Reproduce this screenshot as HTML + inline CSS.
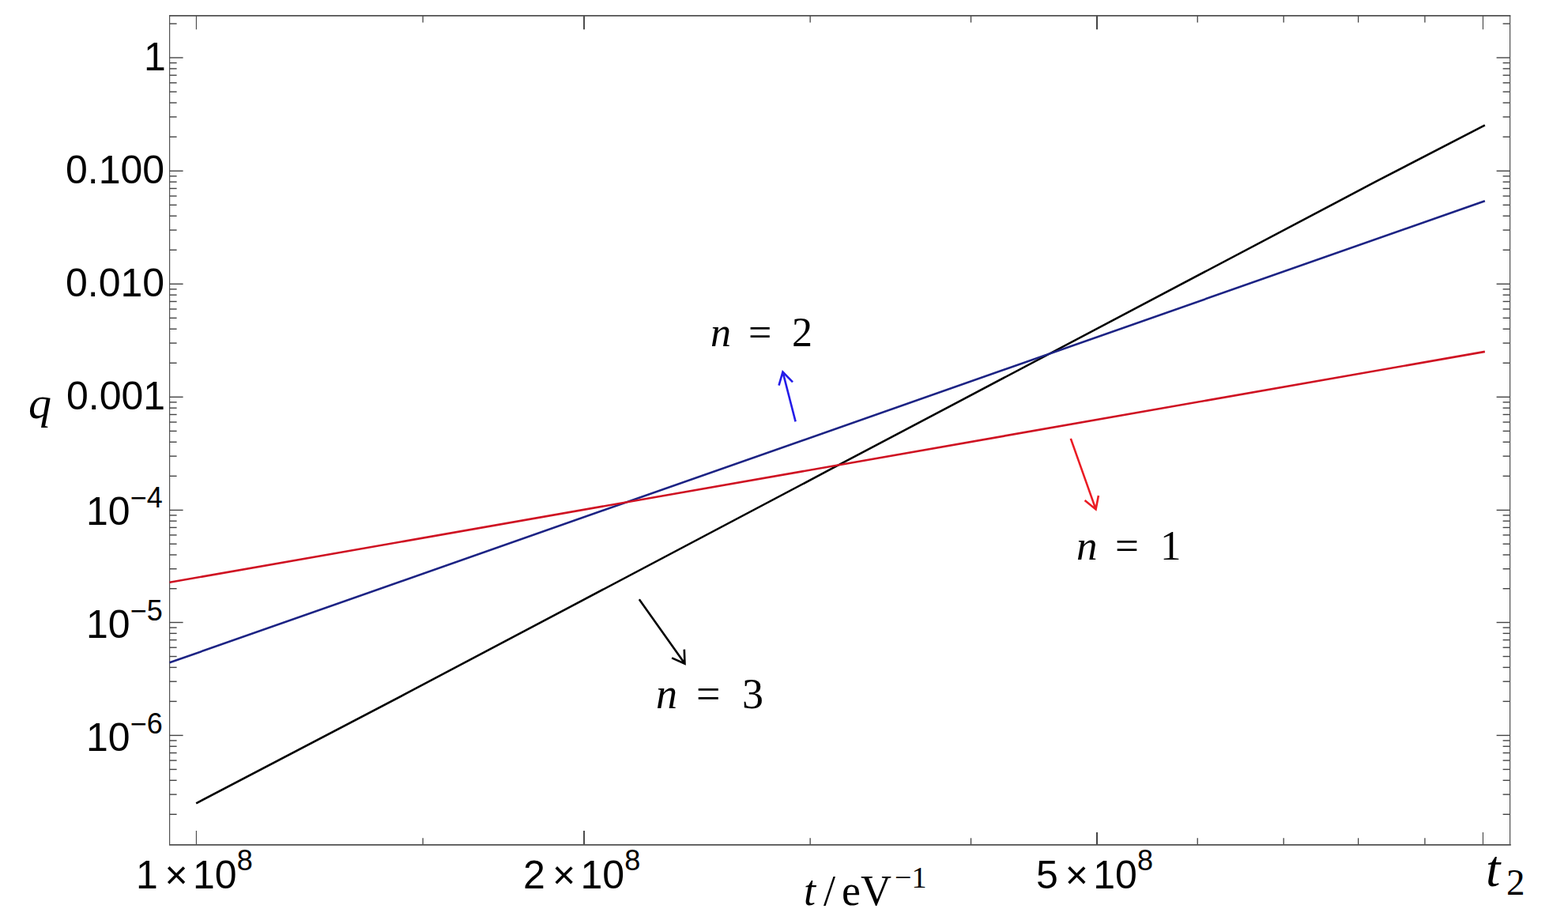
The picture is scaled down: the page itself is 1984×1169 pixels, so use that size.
<!DOCTYPE html>
<html><head><meta charset="utf-8"><title>q versus t (log-log)</title>
<style>
html,body{margin:0;padding:0;background:#fff;}
body{width:1984px;height:1169px;overflow:hidden;font-family:"Liberation Sans",sans-serif;}
svg{display:block;position:absolute;left:0;top:0;}
.lbl text{fill:#000;}
</style></head><body>
<svg width="1984" height="1169" viewBox="0 0 1984 1169">
<rect width="1984" height="1169" fill="#fff"/>
<g id="ticks" stroke="#444" fill="none"><line x1="214.60" y1="1030.28" x2="223.60" y2="1030.28" stroke-width="1.4"/><line x1="1901.60" y1="1030.28" x2="1910.60" y2="1030.28" stroke-width="1.4"/><line x1="214.60" y1="1005.12" x2="223.60" y2="1005.12" stroke-width="1.4"/><line x1="1901.60" y1="1005.12" x2="1910.60" y2="1005.12" stroke-width="1.4"/><line x1="214.60" y1="987.27" x2="223.60" y2="987.27" stroke-width="1.4"/><line x1="1901.60" y1="987.27" x2="1910.60" y2="987.27" stroke-width="1.4"/><line x1="214.60" y1="973.42" x2="223.60" y2="973.42" stroke-width="1.4"/><line x1="1901.60" y1="973.42" x2="1910.60" y2="973.42" stroke-width="1.4"/><line x1="214.60" y1="962.10" x2="223.60" y2="962.10" stroke-width="1.4"/><line x1="1901.60" y1="962.10" x2="1910.60" y2="962.10" stroke-width="1.4"/><line x1="214.60" y1="952.54" x2="223.60" y2="952.54" stroke-width="1.4"/><line x1="1901.60" y1="952.54" x2="1910.60" y2="952.54" stroke-width="1.4"/><line x1="214.60" y1="944.25" x2="223.60" y2="944.25" stroke-width="1.4"/><line x1="1901.60" y1="944.25" x2="1910.60" y2="944.25" stroke-width="1.4"/><line x1="214.60" y1="936.94" x2="223.60" y2="936.94" stroke-width="1.4"/><line x1="1901.60" y1="936.94" x2="1910.60" y2="936.94" stroke-width="1.4"/><line x1="214.60" y1="930.40" x2="231.60" y2="930.40" stroke-width="1.4"/><line x1="1893.60" y1="930.40" x2="1910.60" y2="930.40" stroke-width="1.4"/><line x1="214.60" y1="887.38" x2="223.60" y2="887.38" stroke-width="1.4"/><line x1="1901.60" y1="887.38" x2="1910.60" y2="887.38" stroke-width="1.4"/><line x1="214.60" y1="862.22" x2="223.60" y2="862.22" stroke-width="1.4"/><line x1="1901.60" y1="862.22" x2="1910.60" y2="862.22" stroke-width="1.4"/><line x1="214.60" y1="844.37" x2="223.60" y2="844.37" stroke-width="1.4"/><line x1="1901.60" y1="844.37" x2="1910.60" y2="844.37" stroke-width="1.4"/><line x1="214.60" y1="830.52" x2="223.60" y2="830.52" stroke-width="1.4"/><line x1="1901.60" y1="830.52" x2="1910.60" y2="830.52" stroke-width="1.4"/><line x1="214.60" y1="819.20" x2="223.60" y2="819.20" stroke-width="1.4"/><line x1="1901.60" y1="819.20" x2="1910.60" y2="819.20" stroke-width="1.4"/><line x1="214.60" y1="809.64" x2="223.60" y2="809.64" stroke-width="1.4"/><line x1="1901.60" y1="809.64" x2="1910.60" y2="809.64" stroke-width="1.4"/><line x1="214.60" y1="801.35" x2="223.60" y2="801.35" stroke-width="1.4"/><line x1="1901.60" y1="801.35" x2="1910.60" y2="801.35" stroke-width="1.4"/><line x1="214.60" y1="794.04" x2="223.60" y2="794.04" stroke-width="1.4"/><line x1="1901.60" y1="794.04" x2="1910.60" y2="794.04" stroke-width="1.4"/><line x1="214.60" y1="787.50" x2="231.60" y2="787.50" stroke-width="1.4"/><line x1="1893.60" y1="787.50" x2="1910.60" y2="787.50" stroke-width="1.4"/><line x1="214.60" y1="744.72" x2="223.60" y2="744.72" stroke-width="1.4"/><line x1="1901.60" y1="744.72" x2="1910.60" y2="744.72" stroke-width="1.4"/><line x1="214.60" y1="719.70" x2="223.60" y2="719.70" stroke-width="1.4"/><line x1="1901.60" y1="719.70" x2="1910.60" y2="719.70" stroke-width="1.4"/><line x1="214.60" y1="701.95" x2="223.60" y2="701.95" stroke-width="1.4"/><line x1="1901.60" y1="701.95" x2="1910.60" y2="701.95" stroke-width="1.4"/><line x1="214.60" y1="688.18" x2="223.60" y2="688.18" stroke-width="1.4"/><line x1="1901.60" y1="688.18" x2="1910.60" y2="688.18" stroke-width="1.4"/><line x1="214.60" y1="676.92" x2="223.60" y2="676.92" stroke-width="1.4"/><line x1="1901.60" y1="676.92" x2="1910.60" y2="676.92" stroke-width="1.4"/><line x1="214.60" y1="667.41" x2="223.60" y2="667.41" stroke-width="1.4"/><line x1="1901.60" y1="667.41" x2="1910.60" y2="667.41" stroke-width="1.4"/><line x1="214.60" y1="659.17" x2="223.60" y2="659.17" stroke-width="1.4"/><line x1="1901.60" y1="659.17" x2="1910.60" y2="659.17" stroke-width="1.4"/><line x1="214.60" y1="651.90" x2="223.60" y2="651.90" stroke-width="1.4"/><line x1="1901.60" y1="651.90" x2="1910.60" y2="651.90" stroke-width="1.4"/><line x1="214.60" y1="645.40" x2="231.60" y2="645.40" stroke-width="1.4"/><line x1="1893.60" y1="645.40" x2="1910.60" y2="645.40" stroke-width="1.4"/><line x1="214.60" y1="602.32" x2="223.60" y2="602.32" stroke-width="1.4"/><line x1="1901.60" y1="602.32" x2="1910.60" y2="602.32" stroke-width="1.4"/><line x1="214.60" y1="577.12" x2="223.60" y2="577.12" stroke-width="1.4"/><line x1="1901.60" y1="577.12" x2="1910.60" y2="577.12" stroke-width="1.4"/><line x1="214.60" y1="559.25" x2="223.60" y2="559.25" stroke-width="1.4"/><line x1="1901.60" y1="559.25" x2="1910.60" y2="559.25" stroke-width="1.4"/><line x1="214.60" y1="545.38" x2="223.60" y2="545.38" stroke-width="1.4"/><line x1="1901.60" y1="545.38" x2="1910.60" y2="545.38" stroke-width="1.4"/><line x1="214.60" y1="534.05" x2="223.60" y2="534.05" stroke-width="1.4"/><line x1="1901.60" y1="534.05" x2="1910.60" y2="534.05" stroke-width="1.4"/><line x1="214.60" y1="524.47" x2="223.60" y2="524.47" stroke-width="1.4"/><line x1="1901.60" y1="524.47" x2="1910.60" y2="524.47" stroke-width="1.4"/><line x1="214.60" y1="516.17" x2="223.60" y2="516.17" stroke-width="1.4"/><line x1="1901.60" y1="516.17" x2="1910.60" y2="516.17" stroke-width="1.4"/><line x1="214.60" y1="508.85" x2="223.60" y2="508.85" stroke-width="1.4"/><line x1="1901.60" y1="508.85" x2="1910.60" y2="508.85" stroke-width="1.4"/><line x1="214.60" y1="502.30" x2="231.60" y2="502.30" stroke-width="1.4"/><line x1="1893.60" y1="502.30" x2="1910.60" y2="502.30" stroke-width="1.4"/><line x1="214.60" y1="459.25" x2="223.60" y2="459.25" stroke-width="1.4"/><line x1="1901.60" y1="459.25" x2="1910.60" y2="459.25" stroke-width="1.4"/><line x1="214.60" y1="434.07" x2="223.60" y2="434.07" stroke-width="1.4"/><line x1="1901.60" y1="434.07" x2="1910.60" y2="434.07" stroke-width="1.4"/><line x1="214.60" y1="416.21" x2="223.60" y2="416.21" stroke-width="1.4"/><line x1="1901.60" y1="416.21" x2="1910.60" y2="416.21" stroke-width="1.4"/><line x1="214.60" y1="402.35" x2="223.60" y2="402.35" stroke-width="1.4"/><line x1="1901.60" y1="402.35" x2="1910.60" y2="402.35" stroke-width="1.4"/><line x1="214.60" y1="391.02" x2="223.60" y2="391.02" stroke-width="1.4"/><line x1="1901.60" y1="391.02" x2="1910.60" y2="391.02" stroke-width="1.4"/><line x1="214.60" y1="381.45" x2="223.60" y2="381.45" stroke-width="1.4"/><line x1="1901.60" y1="381.45" x2="1910.60" y2="381.45" stroke-width="1.4"/><line x1="214.60" y1="373.16" x2="223.60" y2="373.16" stroke-width="1.4"/><line x1="1901.60" y1="373.16" x2="1910.60" y2="373.16" stroke-width="1.4"/><line x1="214.60" y1="365.84" x2="223.60" y2="365.84" stroke-width="1.4"/><line x1="1901.60" y1="365.84" x2="1910.60" y2="365.84" stroke-width="1.4"/><line x1="214.60" y1="359.30" x2="231.60" y2="359.30" stroke-width="1.4"/><line x1="1893.60" y1="359.30" x2="1910.60" y2="359.30" stroke-width="1.4"/><line x1="214.60" y1="316.25" x2="223.60" y2="316.25" stroke-width="1.4"/><line x1="1901.60" y1="316.25" x2="1910.60" y2="316.25" stroke-width="1.4"/><line x1="214.60" y1="291.07" x2="223.60" y2="291.07" stroke-width="1.4"/><line x1="1901.60" y1="291.07" x2="1910.60" y2="291.07" stroke-width="1.4"/><line x1="214.60" y1="273.21" x2="223.60" y2="273.21" stroke-width="1.4"/><line x1="1901.60" y1="273.21" x2="1910.60" y2="273.21" stroke-width="1.4"/><line x1="214.60" y1="259.35" x2="223.60" y2="259.35" stroke-width="1.4"/><line x1="1901.60" y1="259.35" x2="1910.60" y2="259.35" stroke-width="1.4"/><line x1="214.60" y1="248.02" x2="223.60" y2="248.02" stroke-width="1.4"/><line x1="1901.60" y1="248.02" x2="1910.60" y2="248.02" stroke-width="1.4"/><line x1="214.60" y1="238.45" x2="223.60" y2="238.45" stroke-width="1.4"/><line x1="1901.60" y1="238.45" x2="1910.60" y2="238.45" stroke-width="1.4"/><line x1="214.60" y1="230.16" x2="223.60" y2="230.16" stroke-width="1.4"/><line x1="1901.60" y1="230.16" x2="1910.60" y2="230.16" stroke-width="1.4"/><line x1="214.60" y1="222.84" x2="223.60" y2="222.84" stroke-width="1.4"/><line x1="1901.60" y1="222.84" x2="1910.60" y2="222.84" stroke-width="1.4"/><line x1="214.60" y1="216.30" x2="231.60" y2="216.30" stroke-width="1.4"/><line x1="1893.60" y1="216.30" x2="1910.60" y2="216.30" stroke-width="1.4"/><line x1="214.60" y1="173.16" x2="223.60" y2="173.16" stroke-width="1.4"/><line x1="1901.60" y1="173.16" x2="1910.60" y2="173.16" stroke-width="1.4"/><line x1="214.60" y1="147.93" x2="223.60" y2="147.93" stroke-width="1.4"/><line x1="1901.60" y1="147.93" x2="1910.60" y2="147.93" stroke-width="1.4"/><line x1="214.60" y1="130.02" x2="223.60" y2="130.02" stroke-width="1.4"/><line x1="1901.60" y1="130.02" x2="1910.60" y2="130.02" stroke-width="1.4"/><line x1="214.60" y1="116.14" x2="223.60" y2="116.14" stroke-width="1.4"/><line x1="1901.60" y1="116.14" x2="1910.60" y2="116.14" stroke-width="1.4"/><line x1="214.60" y1="104.79" x2="223.60" y2="104.79" stroke-width="1.4"/><line x1="1901.60" y1="104.79" x2="1910.60" y2="104.79" stroke-width="1.4"/><line x1="214.60" y1="95.20" x2="223.60" y2="95.20" stroke-width="1.4"/><line x1="1901.60" y1="95.20" x2="1910.60" y2="95.20" stroke-width="1.4"/><line x1="214.60" y1="86.89" x2="223.60" y2="86.89" stroke-width="1.4"/><line x1="1901.60" y1="86.89" x2="1910.60" y2="86.89" stroke-width="1.4"/><line x1="214.60" y1="79.56" x2="223.60" y2="79.56" stroke-width="1.4"/><line x1="1901.60" y1="79.56" x2="1910.60" y2="79.56" stroke-width="1.4"/><line x1="214.60" y1="73.00" x2="231.60" y2="73.00" stroke-width="1.4"/><line x1="1893.60" y1="73.00" x2="1910.60" y2="73.00" stroke-width="1.4"/><line x1="214.60" y1="29.98" x2="223.60" y2="29.98" stroke-width="1.4"/><line x1="1901.60" y1="29.98" x2="1910.60" y2="29.98" stroke-width="1.4"/><line x1="248.40" y1="1051.10" x2="248.40" y2="1068.90" stroke-width="1.1"/><line x1="248.40" y1="19.90" x2="248.40" y2="37.30" stroke-width="1.1"/><line x1="739.00" y1="1051.10" x2="739.00" y2="1068.90" stroke-width="1.9"/><line x1="739.00" y1="19.90" x2="739.00" y2="37.30" stroke-width="1.9"/><line x1="1388.00" y1="1053.10" x2="1388.00" y2="1068.90" stroke-width="2.0"/><line x1="1388.00" y1="19.90" x2="1388.00" y2="37.30" stroke-width="2.0"/><line x1="1876.45" y1="1053.10" x2="1876.45" y2="1068.90" stroke-width="1.1"/><line x1="1876.45" y1="19.90" x2="1876.45" y2="37.30" stroke-width="1.1"/><line x1="535.08" y1="1060.30" x2="535.08" y2="1068.90" stroke-width="1.3"/><line x1="535.08" y1="19.90" x2="535.08" y2="28.50" stroke-width="1.3"/><line x1="1025.15" y1="1060.30" x2="1025.15" y2="1068.90" stroke-width="1.3"/><line x1="1025.15" y1="19.90" x2="1025.15" y2="28.50" stroke-width="1.3"/><line x1="1228.55" y1="1060.30" x2="1228.55" y2="1068.90" stroke-width="1.3"/><line x1="1228.55" y1="19.90" x2="1228.55" y2="28.50" stroke-width="1.3"/><line x1="1515.23" y1="1060.30" x2="1515.23" y2="1068.90" stroke-width="1.3"/><line x1="1515.23" y1="19.90" x2="1515.23" y2="28.50" stroke-width="1.3"/><line x1="1624.22" y1="1060.30" x2="1624.22" y2="1068.90" stroke-width="1.3"/><line x1="1624.22" y1="19.90" x2="1624.22" y2="28.50" stroke-width="1.3"/><line x1="1718.63" y1="1060.30" x2="1718.63" y2="1068.90" stroke-width="1.3"/><line x1="1718.63" y1="19.90" x2="1718.63" y2="28.50" stroke-width="1.3"/><line x1="1802.91" y1="1060.30" x2="1802.91" y2="1068.90" stroke-width="1.3"/><line x1="1802.91" y1="19.90" x2="1802.91" y2="28.50" stroke-width="1.3"/></g>
<g id="frame" stroke="#505050" fill="none"><line x1="214.0" y1="19.9" x2="1911.3999999999999" y2="19.9" stroke-width="1.9"/><line x1="214.0" y1="1068.9" x2="1911.8" y2="1068.9" stroke-width="1.9"/><line x1="214.6" y1="19.9" x2="214.6" y2="1068.9" stroke-width="1.2"/><line x1="1910.6" y1="19.9" x2="1910.6" y2="1068.9" stroke-width="1.2"/></g>
<g id="curves" fill="none" stroke-width="2.6"><polyline points="248.2,1016.3 520,874.2 1050,594.2 1740,230.2 1878.85,158.4" stroke="#000" stroke-linejoin="round"/><line x1="214.6" y1="838.3" x2="1878.85" y2="254.2" stroke="#1c2384"/><line x1="214.6" y1="736.8" x2="1878.85" y2="444.9" stroke="#cf1222"/></g>
<path d="M1006.6 533.4L990.45 470.6M985.5 487.6L990.45 470.6L1003.0 483.4" stroke="#241ce8" stroke-width="2.6" fill="none" stroke-linejoin="miter"/>
<path d="M1354.8 554.9L1386.55 644.4M1372.6 632.9L1386.55 644.4L1389.9 627.1" stroke="#ea1c24" stroke-width="2.6" fill="none" stroke-linejoin="miter"/>
<path d="M808.8 758.3L866.45 839.6M850.1 832.4L866.45 839.6L865.8 821.6" stroke="#000" stroke-width="2.6" fill="none" stroke-linejoin="miter"/>
<g class="lbl">
<text x="182" y="89" font-size="50" font-family="'Liberation Sans', sans-serif">1</text>
<text x="83" y="232" font-size="50" font-family="'Liberation Sans', sans-serif">0.100</text>
<text x="83" y="375" font-size="50" font-family="'Liberation Sans', sans-serif">0.010</text>
<text x="84" y="518" font-size="50" font-family="'Liberation Sans', sans-serif">0.001</text>
<text x="109" y="664" font-size="50" font-family="'Liberation Sans', sans-serif">10<tspan dy="-22" font-size="36">−4</tspan></text>
<text x="109" y="807" font-size="50" font-family="'Liberation Sans', sans-serif">10<tspan dy="-22" font-size="36">−5</tspan></text>
<text x="109" y="950" font-size="50" font-family="'Liberation Sans', sans-serif">10<tspan dy="-22" font-size="36">−6</tspan></text>
<text y="1124" font-size="50" font-family="'Liberation Sans', sans-serif"><tspan x="172">1</tspan><tspan x="208.5">×</tspan><tspan x="244">10</tspan><tspan dy="-23" font-size="36">8</tspan></text>
<text y="1124" font-size="50" font-family="'Liberation Sans', sans-serif"><tspan x="662">2</tspan><tspan x="699">×</tspan><tspan x="734.5">10</tspan><tspan dy="-23" font-size="36">8</tspan></text>
<text y="1124" font-size="50" font-family="'Liberation Sans', sans-serif"><tspan x="1311">5</tspan><tspan x="1347.7">×</tspan><tspan x="1383.3">10</tspan><tspan dy="-23" font-size="36">8</tspan></text>
<text y="437.6" font-size="52" font-family="'Liberation Serif', serif"><tspan x="899" font-style="italic">n</tspan><tspan x="947">=</tspan><tspan x="1002">2</tspan></text>
<text y="708.2" font-size="53" font-family="'Liberation Serif', serif"><tspan x="1362" font-style="italic">n</tspan><tspan x="1411">=</tspan><tspan x="1468">1</tspan></text>
<text y="895.6" font-size="54" font-family="'Liberation Serif', serif"><tspan x="830" font-style="italic">n</tspan><tspan x="881">=</tspan><tspan x="939">3</tspan></text>
<text x="36" y="529" font-size="58" font-style="italic" font-family="'Liberation Serif', serif">q</text>
<text y="1121" font-size="66" font-family="'Liberation Serif', serif"><tspan x="1880" font-style="italic">t</tspan><tspan x="1906" y="1132" font-size="47">2</tspan></text>
<text y="1145" font-size="54" font-family="'Liberation Serif', serif"><tspan x="1017" font-style="italic">t</tspan><tspan x="1042">/</tspan><tspan x="1065">eV</tspan><tspan x="1132" y="1123" font-size="38">−1</tspan></text>
</g>
</svg>
</body></html>
